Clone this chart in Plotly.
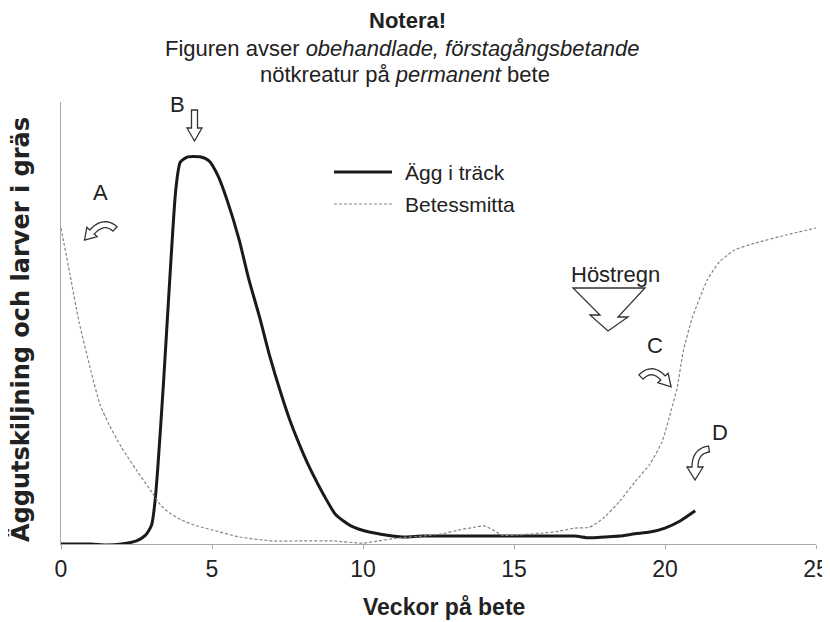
import plotly.graph_objects as go

# veckor på bete och relativ nivå (0-100)
vecka_agg = [0, 1.0, 1.5, 2.0, 2.5, 2.8, 3.0, 3.1, 3.2, 3.4, 3.6, 3.8, 3.95, 4.2, 4.6,
             4.9, 5.2, 5.5, 5.9, 6.2, 6.6, 6.9, 7.3, 7.6, 8.0, 8.3, 8.7, 9.1, 9.6,
             10.2, 10.8, 11.3, 12, 13, 14, 15, 16, 17, 17.5, 18, 18.5, 19, 19.5,
             20, 20.5, 21]
agg_i_track = [0.0, 0.0, -0.2, 0.0, 0.7, 2.0, 4.3, 8.8, 16.7, 37.1, 59.7, 80.1, 86.4,
               87.6, 87.6, 86.7, 83.3, 77.8, 68.8, 60.4, 50.7, 42.8, 33.7, 27.6, 20.8,
               16.3, 11.1, 6.6, 4.1, 2.7, 2.0, 1.6, 1.8, 1.8, 1.8, 1.8, 1.8, 1.8, 1.4,
               1.6, 1.8, 2.3, 2.7, 3.6, 5.2, 7.5]

vecka_bete = [0, 0.3, 0.6, 1.0, 1.3, 1.6, 2.0, 2.5, 3.0, 3.3, 3.6, 4.0, 4.5, 5.0, 5.9,
              7.0, 8.0, 9.0, 10.0, 10.5, 11.2, 12.0, 12.6, 13.2, 13.7, 14.0, 14.3,
              14.6, 15.0, 16.0, 16.5, 17.0, 17.5, 18.0, 18.5, 19.0, 19.5, 19.9, 20.2,
              20.4, 20.6, 20.9, 21.4, 21.8, 22.3, 23.0, 24.0, 25.0]
betessmitta = [71.5, 60.9, 50.2, 38.9, 31.4, 26.9, 21.9, 16.7, 11.8, 8.8, 7.0, 5.4,
               4.1, 3.2, 1.6, 0.7, 0.7, 0.7, 0.2, 0.7, 1.4, 1.8, 2.3, 3.2, 3.8, 4.1,
               3.2, 2.0, 2.0, 2.5, 2.9, 3.6, 3.8, 6.1, 9.7, 14.0, 18.1, 23.1, 30.1,
               35.3, 43.4, 51.1, 59.7, 63.8, 66.5, 68.1, 69.9, 71.5]

x_ticks = [0, 5, 10, 15, 20, 25]

# sidans pixlar; sidan har 8 px marginal runt figuren
W, H, OFF = 830, 622, 8
L, R, T, B = 61, 14, 102, 78
PW, PH = W - L - R, H - T - B
XMAX, YMAX = 25, 100

SANS = "Liberation Sans, Arial, sans-serif"
TXT = "#222"
EDGE = "#333"

SOLID = dict(color="#1a1a1a", width=3)
DASHED = dict(color="#858585", width=1.2, dash="3px,2px")


def to_data(px, py):
    return (px - L) / PW * XMAX, (H - B - py) / PH * YMAX


def to_paper(px, py):
    return (px - L) / PW, (H - B - py) / PH


def path(points):
    pts = [to_data(px, py) for px, py in points]
    return "M " + " L ".join(f"{x:.4f},{y:.4f}" for x, y in pts) + " Z"


def curved_arrow(p0, p1, p2, w, head_len, head_w, n=16):
    left, right = [], []
    for i in range(n + 1):
        t = i / n
        x = (1 - t) ** 2 * p0[0] + 2 * (1 - t) * t * p1[0] + t ** 2 * p2[0]
        y = (1 - t) ** 2 * p0[1] + 2 * (1 - t) * t * p1[1] + t ** 2 * p2[1]
        dx = 2 * (1 - t) * (p1[0] - p0[0]) + 2 * t * (p2[0] - p1[0])
        dy = 2 * (1 - t) * (p1[1] - p0[1]) + 2 * t * (p2[1] - p1[1])
        d = (dx ** 2 + dy ** 2) ** 0.5 or 1
        nx, ny = -dy / d, dx / d
        left.append((x + nx * w, y + ny * w))
        right.append((x - nx * w, y - ny * w))
    ux, uy = dx / d, dy / d
    ex, ey = p2
    head = [(ex + nx * head_w, ey + ny * head_w),
            (ex + ux * head_len, ey + uy * head_len),
            (ex - nx * head_w, ey - ny * head_w)]
    return path(left + head + right[::-1])


fig = go.Figure()

fig.add_trace(go.Scatter(
    x=vecka_agg, y=agg_i_track, mode="lines", name="Ägg i träck",
    line=dict(**SOLID, shape="spline", smoothing=0.6), showlegend=False
))
fig.add_trace(go.Scatter(
    x=vecka_bete, y=betessmitta, mode="lines", name="Betessmitta",
    line=dict(**DASHED, shape="spline", smoothing=0.6), showlegend=False
))

# pilar
arrow_style = dict(type="path", xref="x", yref="y", fillcolor="white",
                   line=dict(color=EDGE, width=1.3), layer="above")
shapes = [
    dict(path=curved_arrow((115, 229), (104, 219), (92, 232), 3, 11, 7), **arrow_style),
    dict(path=curved_arrow((194.5, 110), (194.5, 119), (194.5, 128), 3, 13, 7.5), **arrow_style),
    dict(path=curved_arrow((641, 377), (652, 366), (663, 378), 3, 12, 7), **arrow_style),
    dict(path=curved_arrow((709, 449), (695, 451), (695, 467), 3, 13, 8), **arrow_style),
    dict(path=path([(573, 288), (645, 288), (618, 317), (628, 317), (608, 331),
                    (590, 315), (600, 315)]), **arrow_style),
]

# egen förklaring (legend)
for py, style in [(172, SOLID), (204, DASHED)]:
    x0, y0 = to_paper(334, py)
    x1, _ = to_paper(392, py)
    shapes.append(dict(type="line", xref="paper", yref="paper",
                       x0=x0, x1=x1, y0=y0, y1=y0, line=style))


def ann(text, px, py, size=22, bold=False, xanchor="center", **kw):
    x, y = to_paper(px, py)
    return dict(text=text, xref="paper", yref="paper", x=x, y=y,
                xanchor=xanchor, yanchor="middle", showarrow=False,
                font=dict(family=SANS, size=size, color=TXT,
                          weight="bold" if bold else "normal"), **kw)


annotations = [
    ann("Notera!", 407, 20, bold=True),
    ann("Figuren avser <i>obehandlade, förstagångsbetande</i>", 402, 49),
    ann("nötkreatur på <i>permanent</i> bete", 405, 74),
    ann("Ägg i träck", 403, 172, size=21, xanchor="left"),
    ann("Betessmitta", 403, 204, size=21, xanchor="left"),
    ann("A", 100, 192),
    ann("B", 177, 105),
    ann("C", 655, 345),
    ann("D", 720, 432),
    ann("Höstregn", 615, 274),
    ann("Veckor på bete", 444, 607, size=23, bold=True),
    dict(text="<b>Äggutskiljning och larver i gräs</b>", xref="paper", yref="paper",
         x=to_paper(20, 330)[0], y=to_paper(20, 330)[1], xanchor="center",
         yanchor="middle", showarrow=False, textangle=-90,
         font=dict(family="DejaVu Sans, sans-serif", size=24, color=TXT)),
]

fig.update_layout(
    width=W - OFF, height=H - OFF,
    margin=dict(l=L - OFF, r=R, t=T - OFF, b=B),
    paper_bgcolor="white", plot_bgcolor="white",
    font=dict(family=SANS, color=TXT, size=22),
    shapes=shapes, annotations=annotations,
    showlegend=False,
)
fig.update_xaxes(range=[0, XMAX], tickvals=x_ticks, showline=True, linecolor="#aaa",
                 ticks="outside", ticklen=4, tickcolor="#aaa", showgrid=False,
                 zeroline=False, tickfont=dict(size=23, color=TXT), automargin=False)
fig.update_yaxes(range=[0, YMAX], showline=True, linecolor="#aaa", showgrid=False,
                 zeroline=False, showticklabels=False, ticks="", automargin=False)

fig.write_html("out.html")
